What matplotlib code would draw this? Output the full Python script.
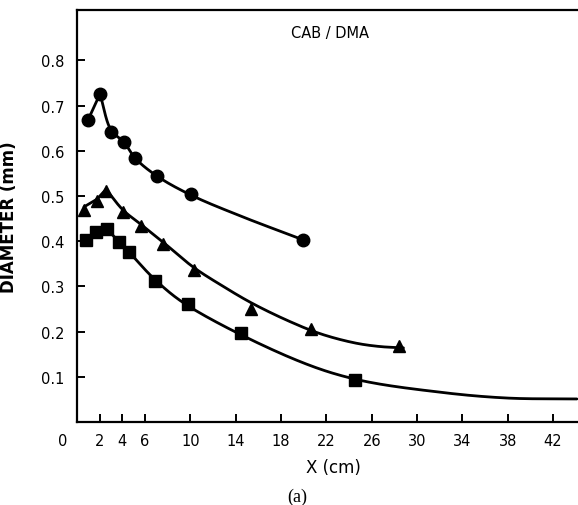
import numpy as np
import matplotlib
matplotlib.use("Agg")
import matplotlib.pyplot as plt
import matplotlib.transforms as mtransforms

# ---- data ----
circ_x = [0.97, 2.03, 3.0, 4.15, 5.12, 7.06, 10.06, 19.95]
circ_y = [0.668, 0.726, 0.642, 0.619, 0.584, 0.544, 0.504, 0.403]

tri_x = [0.65, 1.74, 2.56, 4.09, 5.62, 7.62, 10.3, 15.33, 20.65, 28.45]
tri_y = [0.470, 0.488, 0.510, 0.464, 0.434, 0.394, 0.336, 0.249, 0.205, 0.168]

sq_x = [0.79, 1.68, 2.68, 3.73, 4.62, 6.9, 9.8, 14.47, 24.5]
sq_y = [0.403, 0.420, 0.427, 0.398, 0.377, 0.312, 0.261, 0.197, 0.093]

# fitted curves (knots); straight segments up to the peak knot
circ_curve_x = [0.97, 2.03, 3.0, 4.15, 5.12, 7.06, 10.06, 14.4, 19.95]
circ_curve_y = [0.668, 0.726, 0.646, 0.619, 0.584, 0.544, 0.502, 0.456, 0.403]
circ_peak = 1

tri_curve_x = [0.62, 1.77, 2.56, 4.06, 5.65, 7.59, 10.24, 12.9, 15.5, 18.8, 21.5, 24.5, 26.7, 28.8]
tri_curve_y = [0.476, 0.493, 0.515, 0.469, 0.437, 0.398, 0.343, 0.300, 0.262, 0.222, 0.195, 0.175, 0.167, 0.164]
tri_peak = 2

sq_curve_x = [0.79, 1.68, 2.65, 3.71, 4.59, 6.88, 9.8, 19.06, 24.5, 32.0, 37.95, 44.1]
sq_curve_y = [0.403, 0.420, 0.427, 0.398, 0.376, 0.315, 0.257, 0.140, 0.095, 0.066, 0.053, 0.051]
sq_peak = 2

xticks = [0, 2, 4, 6, 10, 14, 18, 22, 26, 30, 34, 38, 42]
xtick_labels = ["0", "2", "4", "6", "10", "14", "18", "22", "26", "30", "34", "38", "42"]
yticks = [0.1, 0.2, 0.3, 0.4, 0.5, 0.6, 0.7, 0.8]
ytick_labels = ["0.1", "0.2", "0.3", "0.4", "0.5", "0.6", "0.7", "0.8"]

fig = plt.figure(figsize=(5.78, 5.06), dpi=100)
ax = fig.add_axes([77/578, 83/506, 1 - 77/578, (423 - 11)/506])
ax.set_xlim(0, 44.2)
ax.set_ylim(0, 0.9115)

SX, SY = 11.33, 452.0  # approximate pixel scale, used only for curve parameterisation


def centripetal_curve(xs, ys, peak, n=40, alpha=0.5):
    P = np.column_stack([np.asarray(xs) * SX, np.asarray(ys) * SY])
    out = [P[: peak + 1]]
    S = P[peak:]
    m = len(S)
    ext = np.vstack([2 * S[0] - S[1], S, 2 * S[-1] - S[-2]])
    for i in range(m - 1):
        P0, P1, P2, P3 = ext[i], ext[i + 1], ext[i + 2], ext[i + 3]
        t0 = 0.0
        t1 = t0 + np.linalg.norm(P1 - P0) ** alpha
        t2 = t1 + np.linalg.norm(P2 - P1) ** alpha
        t3 = t2 + np.linalg.norm(P3 - P2) ** alpha
        t = np.linspace(t1, t2, n)[:, None]
        A1 = (t1 - t) / (t1 - t0) * P0 + (t - t0) / (t1 - t0) * P1
        A2 = (t2 - t) / (t2 - t1) * P1 + (t - t1) / (t2 - t1) * P2
        A3 = (t3 - t) / (t3 - t2) * P2 + (t - t2) / (t3 - t2) * P3
        B1 = (t2 - t) / (t2 - t0) * A1 + (t - t0) / (t2 - t0) * A2
        B2 = (t3 - t) / (t3 - t1) * A2 + (t - t1) / (t3 - t1) * A3
        C = (t2 - t) / (t2 - t1) * B1 + (t - t1) / (t2 - t1) * B2
        out.append(C[1:])
    pts = np.vstack(out)
    return pts[:, 0] / SX, pts[:, 1] / SY


for cx, cy, pk in [(circ_curve_x, circ_curve_y, circ_peak),
                   (tri_curve_x, tri_curve_y, tri_peak),
                   (sq_curve_x, sq_curve_y, sq_peak)]:
    lx, ly = centripetal_curve(cx, cy, pk)
    ax.plot(lx, ly, color="black", lw=2.0, solid_capstyle="round", solid_joinstyle="round")

ax.plot(circ_x, circ_y, "o", color="black", ms=9, zorder=3)
ax.plot(tri_x, tri_y, "^", color="black", ms=9, zorder=3)
ax.plot(sq_x, sq_y, "s", color="black", ms=8, zorder=3)

for s in ["left", "bottom", "top"]:
    ax.spines[s].set_linewidth(1.6)
ax.spines["right"].set_visible(False)

ax.set_xticks(xticks)
ax.set_xticklabels(xtick_labels)
ax.set_yticks(yticks)
ax.set_yticklabels(ytick_labels)
ax.tick_params(direction="in", length=6, width=1.4, labelsize=10.5, pad=8)
ax.tick_params(axis="y", pad=9)
ax.tick_params(top=False, right=False)

lbl0 = ax.get_xticklabels()[0]
lbl0.set_transform(lbl0.get_transform() + mtransforms.ScaledTranslation(-14/100, 0, fig.dpi_scale_trans))

ax.set_xlabel("X (cm)", fontsize=12)
ax.xaxis.set_label_coords((333 - 77) / (578 - 77), -(459 - 423) / 412)
ax.set_ylabel("DIAMETER (mm)", fontsize=12, fontweight="bold")
ax.yaxis.set_label_coords(-(77 - 18) / 501, 0.5)

ax.text((330 - 77) / 501, (423 - 33) / 412, "CAB / DMA", transform=ax.transAxes,
        ha="center", va="center", fontsize=10.5)

fig.text(297 / 578, 1 - 497 / 506, "(a)", ha="center", va="center",
         fontsize=13, family="Liberation Serif")

fig.savefig("out.png", dpi=100)
